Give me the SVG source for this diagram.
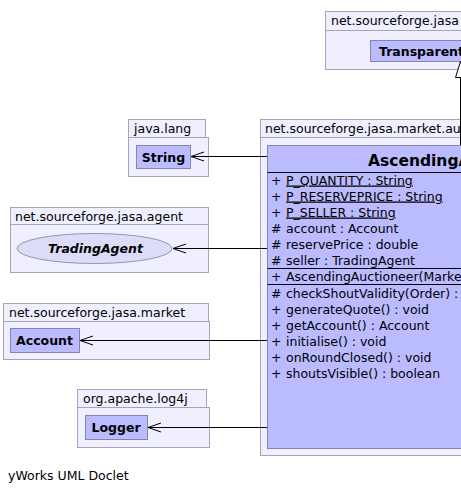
<svg xmlns="http://www.w3.org/2000/svg" width="461" height="493" viewBox="0 0 461 493">
<style>
.pkg{fill:#efefff;stroke:#a5a5b5;stroke-width:1}
.cls{fill:#bbbbff;stroke:#8585a5;stroke-width:1}
.ell{fill:#dcdcf8;stroke:#9595ad;stroke-width:1}
.t{font-family:"DejaVu Sans",sans-serif;font-size:12.5px;fill:#000}
.b{font-weight:bold}
.u{text-decoration:underline}
.hdr{font-family:"DejaVu Sans",sans-serif;font-size:15.5px;font-weight:bold;fill:#000}
.sep{stroke:#000;stroke-width:1}
.con{stroke:#000;stroke-width:1;fill:none}
</style>
<defs>
<marker id="open" viewBox="-14 -6 15 12" markerWidth="15" markerHeight="12" refX="0" refY="0" orient="auto" markerUnits="userSpaceOnUse">
<path d="M-13,-4.5 L0,0 L-13,4.5" fill="none" stroke="#000" stroke-width="1"/>
</marker>
<marker id="tri" viewBox="-17 -6 18 12" markerWidth="18" markerHeight="12" refX="0" refY="0" orient="auto" markerUnits="userSpaceOnUse">
<path d="M0,0 L-16,-5 L-16,5 Z" fill="#fff" stroke="#000" stroke-width="1"/>
</marker>
</defs>
<rect width="461" height="493" fill="#fff"/>

<g id="pkg-auctioneer-top">
<rect class="pkg" x="325.5" y="11.5" width="300" height="19"/>
<rect class="pkg" x="325.5" y="30.5" width="300" height="39"/>
<text class="t" x="331" y="25">net.sourceforge.jasa</text>
</g>
<g id="TransparentAuctioneer">
<rect class="cls" x="370.5" y="40.5" width="160" height="21"/>
<text class="t b" x="379" y="55.5">Transparent</text>
</g>

<g id="pkg-java-lang">
<rect class="pkg" x="128.5" y="119.5" width="77" height="18"/>
<rect class="pkg" x="128.5" y="137.5" width="80" height="39"/>
<text class="t" x="134" y="132.5">java.lang</text>
</g>
<g id="String">
<rect class="cls" x="136.5" y="145.5" width="54" height="23"/>
<text class="t b" x="163.5" y="161.5" text-anchor="middle">String</text>
</g>

<g id="pkg-agent">
<rect class="pkg" x="10.5" y="207.5" width="198" height="17"/>
<rect class="pkg" x="10.5" y="224.5" width="198" height="48"/>
<text class="t" x="15" y="220.5">net.sourceforge.jasa.agent</text>
</g>
<g id="TradingAgent">
<ellipse class="ell" cx="94.5" cy="248.5" rx="77.5" ry="15"/>
<text class="t b" x="95.5" y="253" text-anchor="middle" font-style="italic">TradingAgent</text>
</g>

<g id="pkg-market">
<rect class="pkg" x="3.5" y="303.5" width="205" height="18"/>
<rect class="pkg" x="3.5" y="321.5" width="206" height="38"/>
<text class="t" x="9" y="316.5">net.sourceforge.jasa.market</text>
</g>
<g id="Account">
<rect class="cls" x="10.5" y="328.5" width="69" height="24"/>
<text class="t b" x="44.5" y="345" text-anchor="middle">Account</text>
</g>

<g id="pkg-log4j">
<rect class="pkg" x="77.5" y="389.5" width="129" height="18"/>
<rect class="pkg" x="77.5" y="407.5" width="132" height="40"/>
<text class="t" x="83" y="402.5">org.apache.log4j</text>
</g>
<g id="Logger">
<rect class="cls" x="85.5" y="415.5" width="62" height="24"/>
<text class="t b" x="116" y="432" text-anchor="middle">Logger</text>
</g>

<g id="pkg-auctioneer-main">
<rect class="pkg" x="260.5" y="119.5" width="300" height="18"/>
<rect class="pkg" x="260.5" y="137.5" width="300" height="318"/>
<text class="t" x="265" y="133">net.sourceforge.jasa.market.au</text>
</g>
<g id="AscendingAuctioneer">
<rect class="cls" x="267.5" y="145.5" width="300" height="303"/>
<text class="hdr" x="368" y="166">AscendingA</text>
<line class="sep" x1="267.5" y1="172.5" x2="567" y2="172.5"/>
<text class="t" x="271" y="184.5">+</text><text class="t u" x="286" y="184.5">P_QUANTITY : String</text>
<text class="t" x="271" y="200.5">+</text><text class="t u" x="286" y="200.5">P_RESERVEPRICE : String</text>
<text class="t" x="271" y="216.5">+</text><text class="t u" x="286" y="216.5">P_SELLER : String</text>
<text class="t" x="271" y="232.5">#</text><text class="t" x="286" y="232.5">account : Account</text>
<text class="t" x="271" y="248.5">#</text><text class="t" x="286" y="248.5">reservePrice : double</text>
<text class="t" x="271" y="264.5">#</text><text class="t" x="286" y="264.5">seller : TradingAgent</text>
<line class="sep" x1="267.5" y1="268.5" x2="567" y2="268.5"/>
<text class="t" x="271" y="280.5">+</text><text class="t" x="286" y="280.5">AscendingAuctioneer(Marke</text>
<line class="sep" x1="267.5" y1="284.5" x2="567" y2="284.5"/>
<text class="t" x="271" y="298">#</text><text class="t" x="286" y="298">checkShoutValidity(Order) :</text>
<text class="t" x="271" y="314">+</text><text class="t" x="286" y="314">generateQuote() : void</text>
<text class="t" x="271" y="330">+</text><text class="t" x="286" y="330">getAccount() : Account</text>
<text class="t" x="271" y="346">+</text><text class="t" x="286" y="346">initialise() : void</text>
<text class="t" x="271" y="362">+</text><text class="t" x="286" y="362">onRoundClosed() : void</text>
<text class="t" x="271" y="378">+</text><text class="t" x="286" y="378">shoutsVisible() : boolean</text>
</g>

<g id="connectors">
<line class="con" x1="460.5" y1="145" x2="460.5" y2="61.5" marker-end="url(#tri)"/>
<line class="con" x1="267" y1="156.5" x2="191" y2="156.5" marker-end="url(#open)"/>
<line class="con" x1="267" y1="248.5" x2="173" y2="248.5" marker-end="url(#open)"/>
<line class="con" x1="267" y1="340.5" x2="80" y2="340.5" marker-end="url(#open)"/>
<line class="con" x1="267" y1="427.5" x2="148" y2="427.5" marker-end="url(#open)"/>
</g>

<text class="t" x="8" y="480">yWorks UML Doclet</text>
</svg>
